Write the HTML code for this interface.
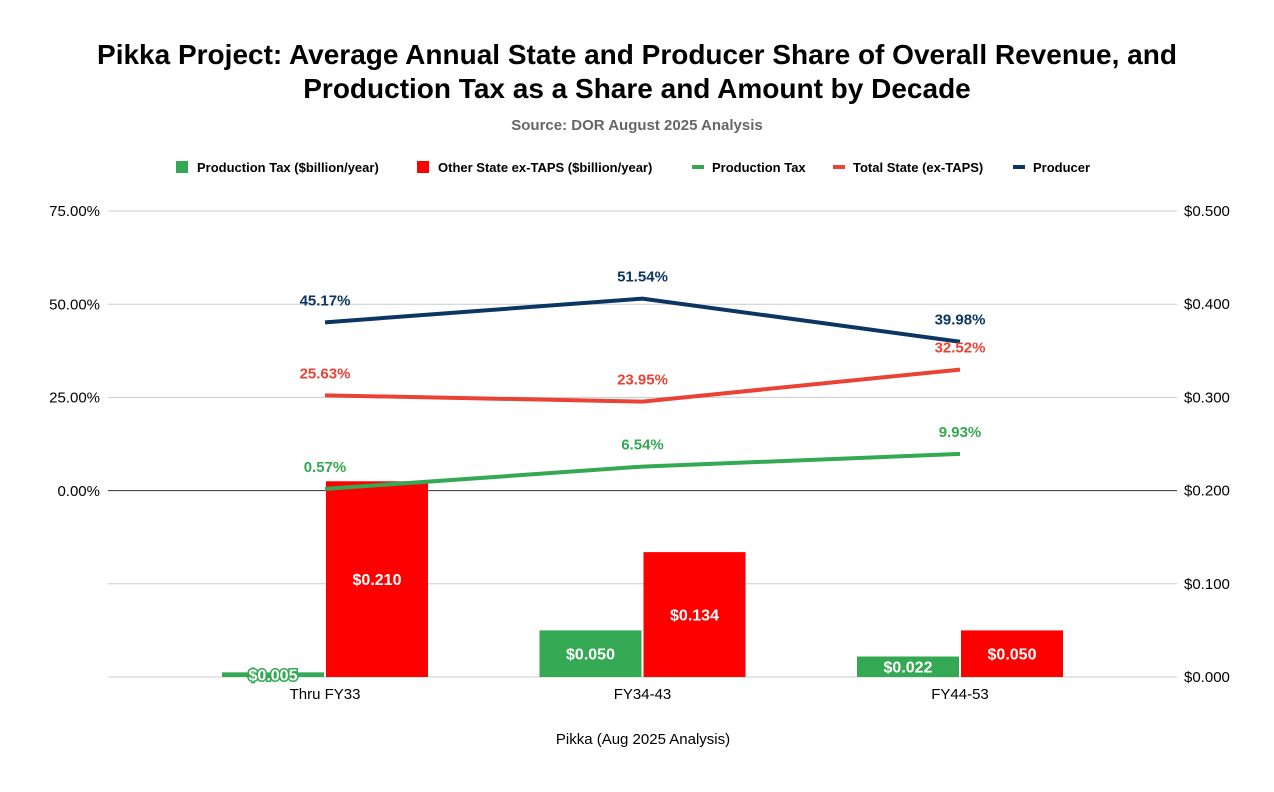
<!DOCTYPE html>
<html><head><meta charset="utf-8"><style>
body{margin:0;background:#fff;font-family:"Liberation Sans",sans-serif}
svg text{font-family:"Liberation Sans",sans-serif}
</style></head><body>
<svg id="chart" width="1274" height="787">
<text x="637" y="64" text-anchor="middle" font-size="28" font-weight="bold">Pikka Project: Average Annual State and Producer Share of Overall Revenue, and</text>
<text x="637" y="98" text-anchor="middle" font-size="28" font-weight="bold">Production Tax as a Share and Amount by Decade</text>
<text x="637" y="130" text-anchor="middle" font-size="15" font-weight="bold" fill="#666">Source: DOR August 2025 Analysis</text>
<g id="legend" font-size="13" font-weight="bold">
<rect x="176" y="161" width="12" height="12" fill="#34a853"/>
<text x="197" y="172">Production Tax ($billion/year)</text>
<rect x="417" y="161" width="12" height="12" fill="#ff0000"/>
<text x="438" y="172">Other State ex-TAPS ($billion/year)</text>
<rect x="692" y="165" width="12" height="4" fill="#34a853"/>
<text x="712" y="172">Production Tax</text>
<rect x="833" y="165" width="12" height="4" fill="#ea4335"/>
<text x="853" y="172">Total State (ex-TAPS)</text>
<rect x="1013" y="165" width="12" height="4" fill="#0b3661"/>
<text x="1033" y="172">Producer</text>
</g>
<g id="grid"></g><g id="bars"></g><g id="lines"></g><g id="labels"></g>
<text x="643" y="744" text-anchor="middle" font-size="15">Pikka (Aug 2025 Analysis)</text>
</svg>
<script>
const categories=["Thru FY33","FY34-43","FY44-53"];
const prodTaxAmt=[0.005,0.050,0.022];
const otherStateAmt=[0.210,0.134,0.050];
const prodTaxShare=[0.57,6.54,9.93];
const totalStateShare=[25.63,23.95,32.52];
const producerShare=[45.17,51.54,39.98];
const leftTicks=[0,25,50,75];
const rightTicks=[0,0.1,0.2,0.3,0.4,0.5];
const NS="http://www.w3.org/2000/svg";
const yL=v=>491-v*(280/75);
const yR=v=>677-v*(466/0.5);
const xC=i=>325+i*317.5;
function mk(tag,attrs,parent,txt){const e=document.createElementNS(NS,tag);for(const k in attrs)e.setAttribute(k,attrs[k]);if(txt!==undefined)e.textContent=txt;document.getElementById(parent).appendChild(e);return e;}
rightTicks.forEach(t=>{
 const l=mk('line',{x1:108,x2:1177,y1:yR(t),y2:yR(t),stroke:t===0.2?'#333':'#ccc','stroke-width':1},'grid');
 
 
 const tx=mk('text',{x:1184,y:yR(t)+5,'font-size':15},'grid','$'+t.toFixed(3));
 
 
});
leftTicks.forEach(t=>{
 const tx=mk('text',{x:100,y:yL(t)+5,'font-size':15,'text-anchor':'end'},'grid',t.toFixed(2)+'%');
 
 
});
categories.forEach((c,i)=>{
 const tx=mk('text',{x:xC(i),y:699,'font-size':15,'text-anchor':'middle'},'grid',c);
 
 
 [[prodTaxAmt,'#34a853',-103],[otherStateAmt,'#ff0000',1]].forEach(([arr,col,off])=>{
  const y=yR(arr[i]);
  const r=mk('rect',{x:xC(i)+off,y:y,width:102,height:677-y,fill:col},'bars');
  
  
  const lb=mk('text',{x:xC(i)+off+51,y:(y+677)/2+6,'font-size':16,'font-weight':'bold','text-anchor':'middle',fill:'#fff',stroke:col,'stroke-width':(677-y<25)?3:0,'paint-order':'stroke'},'labels','$'+arr[i].toFixed(3));
  
  
 });
});
[[prodTaxShare,'#34a853'],[totalStateShare,'#ea4335'],[producerShare,'#0b3661']].forEach(([arr,col])=>{
 const p=mk('polyline',{points:arr.map((v,i)=>xC(i)+','+yL(v)).join(' '),fill:'none',stroke:col,'stroke-width':4},'lines');
 
 
 arr.forEach((v,i)=>{
  const t=mk('text',{x:xC(i),y:yL(v)-17,'font-size':15,'font-weight':'bold','text-anchor':'middle',fill:col},'labels',v.toFixed(2)+'%');
  
  
 });
});
</script>
</body></html>
